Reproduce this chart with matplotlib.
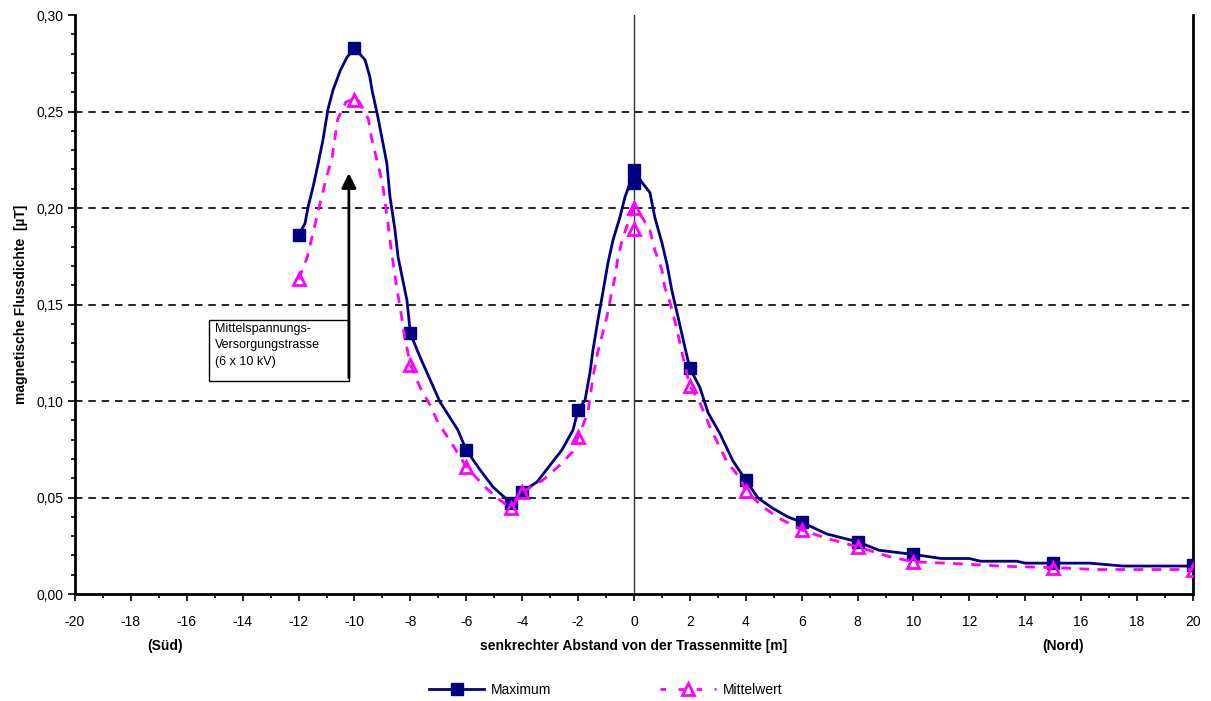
import matplotlib.pyplot as plt
from matplotlib.lines import Line2D
from matplotlib.patches import Rectangle
from matplotlib.ticker import MultipleLocator, FuncFormatter

plt.rcParams['font.family'] = ['Liberation Sans', 'DejaVu Sans']

# ------------------------------------------------------------
# Daten
# ------------------------------------------------------------
max_curve_x = [-12, -11.77, -11.66, -11.48, -11.3, -11.13, -10.95, -10.77, -10.5, -10.27,
               -10, -9.62, -9.45, -9.37, -9.16, -9.0, -8.84, -8.73, -8.55, -8.44,
               -8.12, -8, -7.66, -7.23, -6.94, -6.3, -6, -5.5, -5.04, -4.6,
               -4.4, -4, -3.47, -3.0, -2.58, -2.18, -2, -1.75, -1.57, -1.47,
               -1.29, -1.14, -0.93, -0.75, -0.5, -0.32, -0.14, 0, 0.3, 0.57,
               0.75, 1.0, 1.18, 1.36, 1.57, 1.82, 2, 2.36, 2.65, 3.08,
               3.54, 4, 4.44, 4.97, 5.5, 6, 6.9, 8, 8.76, 10,
               11, 12, 12.4, 13.7, 14, 16.3, 17.5, 20]
max_curve_y = [0.186, 0.192, 0.2005, 0.211, 0.223, 0.235, 0.251, 0.261, 0.2715, 0.278,
               0.283, 0.2767, 0.268, 0.261, 0.247, 0.235, 0.223, 0.206, 0.1886, 0.1746,
               0.152, 0.135, 0.123, 0.109, 0.0995, 0.085, 0.0746, 0.0642, 0.0554, 0.0497,
               0.047, 0.053, 0.058, 0.0668, 0.0746, 0.085, 0.0953, 0.1005, 0.115, 0.126,
               0.142, 0.154, 0.1715, 0.1834, 0.1953, 0.2057, 0.213, 0.2195, 0.213, 0.208,
               0.195, 0.182, 0.171, 0.157, 0.144, 0.128, 0.117, 0.107, 0.094, 0.083,
               0.069, 0.059, 0.0497, 0.0444, 0.040, 0.0372, 0.0311, 0.0271, 0.0227, 0.0205,
               0.0184, 0.0184, 0.017, 0.017, 0.016, 0.016, 0.0145, 0.0145]

max_pts_x = [-12, -10, -8, -6, -4.4, -4, -2, 0, 0, 2, 4, 6, 8, 10, 15, 20]
max_pts_y = [0.186, 0.283, 0.135, 0.0746, 0.047, 0.053, 0.0953, 0.2195, 0.213,
             0.117, 0.059, 0.0372, 0.0271, 0.0205, 0.0161, 0.0148]

mean_curve_x = [-12, -11.7, -11.17, -11.0, -10.8, -10.6, -10.3, -9.9, -9.5, -9.4,
                -9.2, -9.0, -8.8, -8.7, -8.5, -8.35, -8.2, -8, -7.65, -7.3,
                -7.0, -6.6, -6, -5.4, -4.9, -4.4, -4, -3.26, -2.65, -2.2,
                -2, -1.65, -1.47, -1.3, -0.97, -0.8, -0.68, -0.57, -0.39, -0.14,
                0, 0.3, 0.57, 0.75, 1.0, 1.1, 1.29, 1.54, 1.75, 2,
                2.36, 2.72, 3.33, 3.8, 4, 4.6, 5.2, 6, 6.9, 8,
                9.15, 10, 11.5, 13.2, 15, 16.5, 20]
mean_curve_y = [0.163, 0.174, 0.206, 0.216, 0.226, 0.246, 0.255, 0.257, 0.246, 0.237,
                0.225, 0.213, 0.192, 0.180, 0.160, 0.147, 0.133, 0.1187, 0.107, 0.098,
                0.0886, 0.0798, 0.066, 0.0565, 0.0497, 0.0446, 0.0528, 0.059, 0.0668, 0.0736,
                0.0813, 0.0938, 0.112, 0.125, 0.1435, 0.156, 0.164, 0.1746, 0.185, 0.195,
                0.200, 0.195, 0.1886, 0.178, 0.168, 0.159, 0.151, 0.137, 0.123, 0.1078,
                0.099, 0.0865, 0.0684, 0.060, 0.0535, 0.0453, 0.0392, 0.0332, 0.0288, 0.0245,
                0.0193, 0.0167, 0.0158, 0.0144, 0.0137, 0.0127, 0.0127]

mean_pts_x = [-12, -10, -8, -6, -4.4, -4, -2, 0, 0, 2, 4, 6, 8, 10, 15, 20]
mean_pts_y = [0.163, 0.256, 0.1187, 0.066, 0.0446, 0.0528, 0.0813, 0.200, 0.189,
              0.1078, 0.0535, 0.0332, 0.0245, 0.0167, 0.0137, 0.0127]

grid_levels = [0.05, 0.10, 0.15, 0.20, 0.25]

navy = '#000080'
magenta = '#FF00FF'

# ------------------------------------------------------------
# Grafik
# ------------------------------------------------------------
fig = plt.figure(figsize=(12.11, 7.01), dpi=100)
ax = fig.add_axes([0.0619, 0.1526, 0.9232, 0.826])

for g in grid_levels:
    ax.axhline(g, color='black', lw=1.2, linestyle=(0, (4.5, 3.5)), zorder=1)
ax.axvline(0, color='#333333', lw=1.0, zorder=1)

ax.plot(max_curve_x, max_curve_y, color=navy, lw=2.0, zorder=3)
ax.plot(max_pts_x, max_pts_y, linestyle='none', marker='s', ms=8,
        color=navy, zorder=4)

ax.plot(mean_curve_x, mean_curve_y, color=magenta, lw=2.0,
        linestyle=(0, (3.5, 3)), zorder=5)
ax.plot(mean_pts_x, mean_pts_y, linestyle='none', marker='^', ms=8,
        mfc='none', mec=magenta, mew=2, zorder=6)

ax.set_xlim(-20, 20)
ax.set_ylim(0, 0.30)
ax.xaxis.set_major_locator(MultipleLocator(2))
ax.xaxis.set_minor_locator(MultipleLocator(1))
ax.yaxis.set_major_locator(MultipleLocator(0.05))
ax.yaxis.set_minor_locator(MultipleLocator(0.01))
ax.yaxis.set_major_formatter(FuncFormatter(lambda v, p: f"{v:.2f}".replace('.', ',')))
ax.xaxis.set_major_formatter(FuncFormatter(lambda v, p: f"{v:.0f}"))

ax.tick_params(axis='both', which='major', labelsize=10, length=5, width=1.2,
               direction='out')
ax.tick_params(axis='both', which='minor', length=3, width=1.2, direction='out')
ax.tick_params(axis='x', pad=10)

for side in ['left', 'bottom', 'right']:
    ax.spines[side].set_linewidth(2)
ax.spines['top'].set_visible(False)

ax.set_ylabel('magnetische Flussdichte  [µT]', fontsize=10, fontweight='bold',
              labelpad=6)

# x-Achsentitel
fig.text(634 / 1211, 1 - 646 / 701,
         'senkrechter Abstand von der Trassenmitte [m]', ha='center', va='center',
         fontsize=10, fontweight='bold')
fig.text(165 / 1211, 1 - 646 / 701, '(Süd)', ha='center', va='center',
         fontsize=10, fontweight='bold')
fig.text(1063 / 1211, 1 - 646 / 701, '(Nord)', ha='center', va='center',
         fontsize=10, fontweight='bold')

# Annotation
ax.add_patch(Rectangle((-15.2, 0.1106), 5.0, 0.0314, fc='white', ec='black',
                       lw=1, zorder=7))
ax.text(-15.0, 0.1405, 'Mittelspannungs-\nVersorgungstrasse\n(6 x 10 kV)',
        ha='left', va='top', fontsize=9, linespacing=1.5, zorder=8)
ax.annotate('', xy=(-10.2, 0.2195), xytext=(-10.2, 0.1106),
            arrowprops=dict(arrowstyle='-|>', color='black', lw=2,
                            mutation_scale=22), zorder=9)

handles = [
    Line2D([], [], color=navy, lw=2, marker='s', ms=8),
    Line2D([], [], color=magenta, lw=2, linestyle=(0, (2, 4.5)), marker='^',
           ms=8, mfc='none', mec=magenta, mew=2),
]
fig.legend(handles, ['Maximum', 'Mittelwert'], loc='center',
           bbox_to_anchor=(0.5, 1 - 690 / 701), ncol=2, frameon=False,
           fontsize=10, handlelength=4, handletextpad=0.5, columnspacing=7.8)

fig.savefig('out.png', dpi=100)
